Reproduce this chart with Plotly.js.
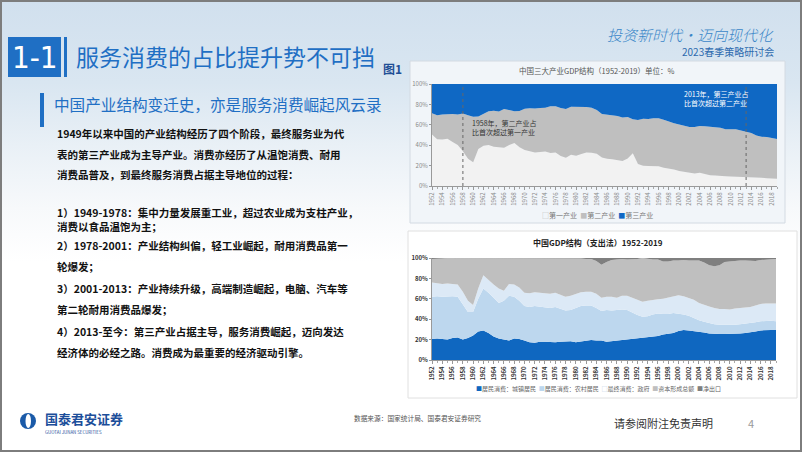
<!DOCTYPE html>
<html><head><meta charset="utf-8">
<script src="https://cdn.plot.ly/plotly-3.0.1.min.js"></script>
<style>
html,body{margin:0;padding:0;}
#slide{position:relative;width:802px;height:452px;box-sizing:border-box;border:2px solid #7d7d7d;
background:linear-gradient(180deg,#d1e0ee 0%,#d9e6f1 18%,#e9f0f6 32%,#f7f9fb 46%,#ffffff 58%,#ffffff 100%);overflow:hidden;}
#chart{position:absolute;left:-2px;top:-2px;width:802px;height:452px;}
</style></head>
<body><div id="slide"><div id="chart"></div></div>
<script>
// ---- Chart 1: 中国三大产业GDP结构（1952-2019）单位：%
const years = [1952,1953,1954,1955,1956,1957,1958,1959,1960,1961,1962,1963,1964,1965,1966,1967,1968,1969,1970,1971,1972,1973,1974,1975,1976,1977,1978,1979,1980,1981,1982,1983,1984,1985,1986,1987,1988,1989,1990,1991,1992,1993,1994,1995,1996,1997,1998,1999,2000,2001,2002,2003,2004,2005,2006,2007,2008,2009,2010,2011,2012,2013,2014,2015,2016,2017,2018,2019];
const industryNames = ['第一产业','第二产业','第三产业'];
const primary = [50.5,45.9,45.6,46.3,43.2,40.3,34.1,26.7,23.4,36.2, 39.4,40.3,38.4,37.9,37.6,40.3,42.2,38.0,35.2,34.1, 32.9,33.4,33.9,32.4,32.8,29.4,27.7,30.7,29.6,31.3, 32.8,32.6,31.5,27.9,26.6,26.3,25.2,24.6,27.0,32.0, 21.5,19.8,19.5,19.6,19.3,17.9,17.2,16.1,14.7,14.0, 13.3,12.3,12.9,11.6,10.6,10.2,10.2,9.6,9.3,9.2, 9.1,8.9,8.7,8.4,8.1,7.5,7.0,7.1];
const secondary = [20.8,23.4,24.6,24.4,27.3,29.7,37.0,42.7,44.5,31.9, 31.3,33.0,35.3,35.1,38.0,34.0,31.2,35.6,40.5,42.2, 43.1,43.1,42.7,45.7,45.4,47.1,47.7,47.0,48.1,46.0, 44.6,44.2,42.9,42.7,43.5,43.3,43.5,42.5,40.6,33.5, 43.1,46.2,46.2,46.8,47.1,47.1,45.8,45.4,45.5,44.8, 44.5,45.6,45.9,47.0,47.6,46.9,47.0,46.0,46.5,46.5, 45.4,44.2,43.3,41.1,40.1,40.5,39.7,39.0];
const tertiary = [28.7,30.7,29.8,29.3,29.5,30.0,28.9,30.6,32.1,31.9, 29.3,26.7,26.3,27.0,24.4,25.7,26.6,26.4,24.3,23.7, 24.0,23.5,23.4,21.9,21.8,23.5,24.6,22.3,22.3,22.7, 22.6,23.2,25.6,29.4,29.9,30.4,31.3,32.9,32.4,34.5, 35.4,34.0,34.3,33.6,33.6,35.0,37.0,38.5,39.8,41.2, 42.2,42.1,41.2,41.4,41.8,42.9,42.8,44.4,44.2,44.3, 45.5,46.9,48.0,50.5,51.8,52.0,53.3,53.9];

// ---- Chart 2: 中国GDP结构（支出法）1952-2019
const demandNames = ['居民消费：城镇居民','居民消费：农村居民','最终消费：政府','资本形成总额','净出口'];
const urban = [20.5,21,20.5,20,21.5,22,20,21.5,24,28, 29,26.5,23,21,20,19,21,20.5,19,17.5, 17,18,18,17.5,17.5,18,18,18.5,17.5,18, 19,19.5,19,19,18,18.5,19.5,20,20.5,21, 21,22,22.5,23,23.5,25,26,26.5,28.5,29.5, 29,28.5,27.5,27,26,25.5,25.5,25.5,25.5,26, 26,26.5,27,28,29,29.5,29.5,29.5];
const rural = [41.5,41.5,41.5,42.5,41,40,35,25.5,23,32, 41,39.5,38,35,38,44,41,37.5,34,34.5, 36,34.5,34,33.5,34.5,32,30.5,30.5,33.5,35, 34.5,34,32,29,31,30,29.5,29.5,28.5,25.5, 23,20.5,20.5,21.5,22,20,19,19.5,17,15, 14.5,12.5,11.5,10.5,10,9.5,9,9,8.5,8.5, 9,9,9,9,9,9,9,8.5];
const government = [14,12.5,12.5,12.5,12,12,12,11,7,10, 13,12,13,14,10,11.5,12,13,13,13.5, 13.5,13.5,13.5,14,14,14,13.5,14,14,13.5, 13.5,13.5,14,13,13,13.5,12,13.5,14,14.5, 15,14.5,15,14.5,14,15,16,16.5,18,18, 17.5,18,17,16.5,16.5,16,15.5,15.5,15.5,16, 16,16,16,16.5,17,17,17,17.5];
const capital = [23,24,25,25,25.5,26,33,42,46,30, 17,22,26,30,32,25.5,26,29,34,34.5, 33.5,34,34.5,35,34,36,38,37,34.5,33, 32,32,32,32.5,34,36,37.5,36,35.5,37.5, 40,43,41,39.5,39,36.5,35.5,35,34,35.5, 36.5,38.5,41.5,41.5,40.5,41,43,46,47,47, 46.5,46,45.5,43.5,43,43,43.5,43.5];
const netExport = [1,1,0.5,0,0,0,0,0,0,0, 0,0,0,0,0,0,0,0,0,0, 0,0,0,0,0,0,0,0,0.5,0.5, 1,1,3,6.5,4,2,1.5,1,1.5,1.5, 1,0,1,1.5,1.5,3.5,3.5,2.5,2.5,2, 2.5,2.5,2.5,4.5,7,8,7,4,3.5,2.5, 2.5,2.5,2.5,3,2,1.5,1,1];

const pctVals = [0,20,40,60,80,100];
const pctText = ['0%','20%','40%','60%','80%','100%'];

const W=802,H=452;
const X=p=>p/W, Y=p=>1-p/H;
const BLUE='#1f6fc4';
const FONT='"Noto Sans CJK SC","Noto Sans",sans-serif';

const c1 = ['#f2f2f2','#bfbfbf','#0f68c4'];
const c2 = ['#0f67c0','#bdd7ee','#dce9f6','#bfbfbf','#7f7f7f'];

const traces=[];
[primary,secondary,tertiary].forEach((s,i)=>traces.push({
  type:'scatter',mode:'lines',x:years,y:s,name:industryNames[i],stackgroup:'a',groupnorm:'percent',
  line:{width:0,color:c1[i]},fillcolor:c1[i],xaxis:'x',yaxis:'y',showlegend:false,hoverinfo:'skip'}));
[urban,rural,government,capital,netExport].forEach((s,i)=>traces.push({
  type:'scatter',mode:'lines',x:years,y:s,name:demandNames[i],stackgroup:'b',groupnorm:'percent',
  line:{width:0,color:c2[i]},fillcolor:c2[i],xaxis:'x2',yaxis:'y2',showlegend:false,hoverinfo:'skip'}));

function xax(dom,anchor,bold){return {domain:dom,anchor:anchor,range:[1952,2019],tickmode:'linear',tick0:1952,dtick:2,
  tickangle:-90,tickfont:{size:6,color:bold?'#333':'#888',weight:bold?'bold':'normal'},ticks:'outside',ticklen:3,tickcolor:'#999',
  showline:true,linecolor:'#999',linewidth:1,showgrid:false,zeroline:false,fixedrange:true,
  minor:{dtick:1,ticks:'outside',ticklen:2,tickcolor:'#aaa'}};}
function yax(dom,anchor,bold){return {domain:dom,anchor:anchor,range:[0,100],tickmode:'array',tickvals:pctVals,ticktext:pctText,
  tickfont:{size:6,color:bold?'#333':'#888',weight:bold?'bold':'normal'},ticks:'outside',ticklen:2,tickcolor:'#999',
  showline:true,linecolor:'#999',linewidth:1,showgrid:false,zeroline:false,fixedrange:true};}

const shapes=[
  {type:'rect',xref:'paper',yref:'paper',x0:X(8),x1:X(61),y0:Y(77),y1:Y(37),fillcolor:BLUE,line:{width:0},layer:'below'},
  {type:'rect',xref:'paper',yref:'paper',x0:X(64),x1:X(67),y0:Y(77),y1:Y(37),fillcolor:BLUE,line:{width:0},layer:'below'},
  {type:'rect',xref:'paper',yref:'paper',x0:X(40),x1:X(44),y0:Y(127),y1:Y(93),fillcolor:BLUE,line:{width:0},layer:'below'},
  {type:'rect',xref:'paper',yref:'paper',x0:X(410),x1:X(785),y0:Y(223),y1:Y(61),fillcolor:'#f1f5f9',line:{width:1,color:'#d3dae2'},layer:'below'},
  {type:'rect',xref:'paper',yref:'paper',x0:X(408),x1:X(797),y0:Y(398),y1:Y(231),fillcolor:'#ffffff',line:{width:1,color:'#e0e0e0'},layer:'below'},
  {type:'circle',xref:'paper',yref:'paper',x0:X(20),x1:X(36),y0:Y(429),y1:Y(413),fillcolor:'#1a5aa8',line:{width:0}},
  {type:'circle',xref:'paper',yref:'paper',x0:X(25.5),x1:X(31),y0:Y(428),y1:Y(414),fillcolor:'#ffffff',line:{width:0}},
  {type:'line',xref:'x',yref:'y',x0:1958,x1:1958,y0:0,y1:100,line:{color:'#666',width:1,dash:'dot'}},
  {type:'line',xref:'x',yref:'y',x0:2013,x1:2013,y0:0,y1:100,line:{color:'#666',width:1,dash:'dot'}}
];

const A=(x,y,text,size,color,opt)=>Object.assign({xref:'paper',yref:'paper',x:X(x),y:Y(y),text:text,showarrow:false,
  xanchor:'left',yanchor:'middle',font:{size:size,color:color,family:FONT}},opt||{});

const body=[
 ['1949年以来中国的产业结构经历了四个阶段，最终服务业为代',133],
 ['表的第三产业成为主导产业。消费亦经历了从温饱消费、耐用',154],
 ['消费品普及，到最终服务消费占据主导地位的过程：',174],
 ['1）1949-1978：集中力量发展重工业，超过农业成为支柱产业，',212],
 ['消费以食品温饱为主；',226],
 ['2）1978-2001：产业结构纠偏，轻工业崛起，耐用消费品第一',245],
 ['轮爆发；',266],
 ['3）2001-2013：产业持续升级，高端制造崛起，电脑、汽车等',288],
 ['第二轮耐用消费品爆发；',309],
 ['4）2013-至今：第三产业占据主导，服务消费崛起，迈向发达',331],
 ['经济体的必经之路。消费成为最重要的经济驱动引擎。',352]
];

const annotations=[
  A(34.5,57,'1-1',30,'#ffffff',{xanchor:'center',font:{size:31,color:'#fff',family:'"Liberation Sans Narrow","DejaVu Sans Condensed",sans-serif'}}),
  A(74,56,'服务消费的占比提升势不可挡',23,BLUE),
  A(381,68,'图1',12,'#1f4f96',{font:{size:12,color:'#1f4f96',family:FONT,weight:'bold'}}),
  A(776,34,'投资新时代·迈向现代化',15,'#3a86c8',{xanchor:'right',font:{size:15,color:'#3a86c8',family:FONT,style:'italic',weight:300}}),
  A(776,52,'2023春季策略研讨会',10,'#2d6aae',{xanchor:'right'}),
  A(52,104,'中国产业结构变迁史，亦是服务消费崛起风云录',15.6,BLUE),
  ...body.map(b=>A(55,b[1],b[0],10.5,'#111',{font:{size:10.5,color:'#111',family:FONT,weight:'bold'}})),
  // chart 1
  A(596,70,'中国三大产业GDP结构（1952-2019）单位：%',7.5,'#555',{xanchor:'center'}),
  {xref:'x',yref:'y',x:1959.4,y:57,text:'1958年，第二产业占<br>比首次超过第一产业',showarrow:false,xanchor:'left',yanchor:'middle',align:'left',font:{size:7,color:'#333',family:FONT}},
  {xref:'x',yref:'y',x:2000.5,y:86,text:'2013年，第三产业占<br>比首次超过第二产业',showarrow:false,xanchor:'left',yanchor:'middle',align:'left',font:{size:7,color:'#fff',family:FONT}},
  A(597,215,'<span style="color:#bbb">□</span>'+industryNames[0]+'  <span style="color:'+c1[1]+'">■</span>'+industryNames[1]+'  <span style="color:'+c1[2]+'">■</span>'+industryNames[2],7,'#777',{xanchor:'center'}),
  // chart 2
  A(598,242,'中国GDP结构（支出法）1952-2019',8,'#222',{xanchor:'center',font:{size:8,color:'#222',family:FONT,weight:'bold'}}),
  A(598,388,demandNames.map((n,i)=>'<span style="color:'+(i==2?'#b8cde3':c2[i])+'">'+(i==2?'□':'■')+'</span>'+n).join('  '),6,'#666',{xanchor:'center'}),
  // footer
  A(43,418,'国泰君安证券',13,'#1c4e9a',{font:{size:13,color:'#1c4e9a',family:FONT,weight:'bold'}}),
  A(43,431.5,'GUOTAI JUNAN SECURITIES',4.4,'#1c4e9a'),
  A(352,418,'数据来源：国家统计局、国泰君安证券研究',6.7,'#555'),
  A(612,423,'请参阅附注免责声明',11,'#333'),
  A(746,423,'4',11,'#999')
];

const layout={width:802,height:452,margin:{l:0,r:0,t:0,b:0},autosize:false,
  paper_bgcolor:'rgba(0,0,0,0)',plot_bgcolor:'rgba(0,0,0,0)',font:{family:FONT},showlegend:false,
  xaxis:xax([X(432),X(777)],'y',false), yaxis:yax([Y(186),Y(84)],'x',false),
  xaxis2:xax([X(432),X(776)],'y2',true), yaxis2:yax([Y(360),Y(258)],'x2',true),
  shapes:shapes, annotations:annotations};
Plotly.newPlot('chart',traces,layout,{staticPlot:true,displayModeBar:false});
</script></body></html>
